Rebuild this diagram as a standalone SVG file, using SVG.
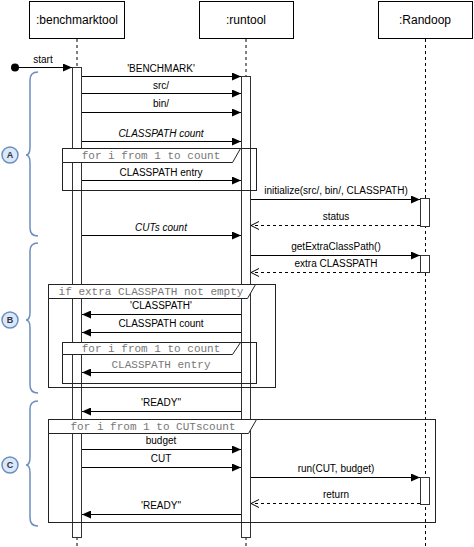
<svg xmlns="http://www.w3.org/2000/svg" width="474" height="547" viewBox="0 0 474 547">
<style>
text{font-family:"Liberation Sans",Arial,sans-serif;fill:#000}
.h{font-size:12px}
.m{font-size:10px}
.i{font-style:italic}
.mono{font-family:"Liberation Mono","Courier New",monospace;font-size:11px;fill:#777}
.box{fill:#fff;stroke:#000;stroke-width:1}
.life{stroke:#000;stroke-width:1;stroke-dasharray:3,3;fill:none}
.bar{fill:#fff;stroke:#333;stroke-width:1}
.frame{fill:none;stroke:#222;stroke-width:1}
.hdr{fill:#fff;stroke:#222;stroke-width:1}
.msg{stroke:#000;stroke-width:1;fill:none}
.ret{stroke:#000;stroke-width:1;fill:none;stroke-dasharray:3,3}
.brace{fill:none;stroke:#6c8ebf;stroke-width:1.5}
.circ{fill:#dae8fc;stroke:#6c8ebf;stroke-width:1.5}
.cl{font-size:9px;font-weight:bold;fill:#333}
</style>
<defs>
<marker id="fa" markerWidth="10" markerHeight="8" refX="9" refY="4" orient="auto" markerUnits="userSpaceOnUse">
<path d="M0,0 L9,4 L0,8 Z" fill="#000"/>
</marker>
<marker id="oa" markerWidth="10" markerHeight="10" refX="9" refY="5" orient="auto" markerUnits="userSpaceOnUse">
<path d="M1,1 L9,5 L1,9" fill="none" stroke="#000" stroke-width="1"/>
</marker>
</defs>

<g id="benchmarktool">
<rect class="box" x="29.5" y="1.5" width="95" height="37"/>
<text class="h" x="77" y="24" text-anchor="middle">:benchmarktool</text>
<line class="life" x1="77" y1="39" x2="77" y2="547"/>
<rect class="bar" x="72.5" y="67.5" width="9" height="470"/>
</g>
<g id="runtool">
<rect class="box" x="199.5" y="1.5" width="94" height="37"/>
<text class="h" x="246" y="24" text-anchor="middle">:runtool</text>
<line class="life" x1="246" y1="39" x2="246" y2="547"/>
<rect class="bar" x="241.5" y="76.5" width="9" height="461"/>
</g>
<g id="randoop">
<rect class="box" x="378.5" y="1.5" width="94" height="37"/>
<text class="h" x="425" y="24" text-anchor="middle">:Randoop</text>
<line class="life" x1="425.5" y1="39" x2="425.5" y2="547"/>
<rect class="bar" x="420.5" y="198.5" width="9" height="28"/>
<rect class="bar" x="420.5" y="255.5" width="9" height="17"/>
<rect class="bar" x="420.5" y="477.5" width="9" height="27"/>
</g>

<g id="frames">
<g id="loop1">
<rect class="frame" x="62.5" y="148.5" width="194" height="42"/>
<path class="hdr" d="M62.5,148.5 H240.5 L232.5,162.5 H62.5 Z"/>
<text class="mono" x="151" y="159" text-anchor="middle">for i from 1 to count</text>
</g>
<g id="alt1">
<rect class="frame" x="48.5" y="284.5" width="227" height="103"/>
<path class="hdr" d="M48.5,284.5 H255.5 L247.5,298.5 H48.5 Z"/>
<text class="mono" x="151" y="295" text-anchor="middle">if extra CLASSPATH not empty</text>
</g>
<g id="loop2">
<rect class="frame" x="62.5" y="342.5" width="194" height="41"/>
<path class="hdr" d="M62.5,342.5 H240.5 L232.5,354.5 H62.5 Z"/>
<text class="mono" x="151" y="352" text-anchor="middle">for i from 1 to count</text>
</g>
<g id="loop3">
<rect class="frame" x="48.5" y="419.5" width="387" height="103"/>
<path class="hdr" d="M48.5,419.5 H256.5 L248.5,433.5 H48.5 Z"/>
<text class="mono" x="153" y="430" text-anchor="middle">for i from 1 to CUTscount</text>
</g>
</g>

<g id="connectors">
<circle cx="15" cy="67.5" r="4" fill="#000"/>
<line class="msg" x1="15" y1="67.5" x2="72" y2="67.5" marker-end="url(#fa)"/>
<line class="msg" x1="82" y1="76.5" x2="241" y2="76.5" marker-end="url(#fa)"/>
<line class="msg" x1="82" y1="93.5" x2="241" y2="93.5" marker-end="url(#fa)"/>
<line class="msg" x1="82" y1="112.5" x2="241" y2="112.5" marker-end="url(#fa)"/>
<line class="msg" x1="82" y1="141.5" x2="241" y2="141.5" marker-end="url(#fa)"/>
<line class="msg" x1="82" y1="180.5" x2="241" y2="180.5" marker-end="url(#fa)"/>
<line class="msg" x1="251" y1="199.5" x2="420" y2="199.5" marker-end="url(#fa)"/>
<line class="ret" x1="420" y1="225.5" x2="251" y2="225.5" marker-end="url(#oa)"/>
<line class="msg" x1="82" y1="235.5" x2="241" y2="235.5" marker-end="url(#fa)"/>
<line class="msg" x1="251" y1="255.5" x2="420" y2="255.5" marker-end="url(#fa)"/>
<line class="ret" x1="420" y1="272.5" x2="251" y2="272.5" marker-end="url(#oa)"/>
<line class="msg" x1="241" y1="314.5" x2="82" y2="314.5" marker-end="url(#fa)"/>
<line class="msg" x1="241" y1="332.5" x2="82" y2="332.5" marker-end="url(#fa)"/>
<line class="msg" x1="241" y1="372.5" x2="82" y2="372.5" marker-end="url(#fa)"/>
<line class="msg" x1="241" y1="411.5" x2="82" y2="411.5" marker-end="url(#fa)"/>
<line class="msg" x1="82" y1="449.5" x2="241" y2="449.5" marker-end="url(#fa)"/>
<line class="msg" x1="82" y1="467.5" x2="241" y2="467.5" marker-end="url(#fa)"/>
<line class="msg" x1="251" y1="477.5" x2="420" y2="477.5" marker-end="url(#fa)"/>
<line class="ret" x1="420" y1="503.5" x2="251" y2="503.5" marker-end="url(#oa)"/>
<line class="msg" x1="241" y1="514.5" x2="82" y2="514.5" marker-end="url(#fa)"/>
</g>

<g id="labels">
<text class="m" x="43" y="63" text-anchor="middle">start</text>
<text class="m" x="161" y="72" text-anchor="middle">'BENCHMARK'</text>
<text class="m" x="161" y="89" text-anchor="middle">src/</text>
<text class="m" x="161" y="107" text-anchor="middle">bin/</text>
<text class="m i" x="161" y="137" text-anchor="middle">CLASSPATH count</text>
<text class="m" x="161" y="176" text-anchor="middle">CLASSPATH entry</text>
<text class="m" x="336" y="194" text-anchor="middle">initialize(src/, bin/, CLASSPATH)</text>
<text class="m" x="336" y="220" text-anchor="middle">status</text>
<text class="m i" x="161" y="231" text-anchor="middle">CUTs count</text>
<text class="m" x="336" y="250" text-anchor="middle">getExtraClassPath()</text>
<text class="m" x="336" y="267" text-anchor="middle">extra CLASSPATH</text>
<text class="m" x="161" y="309" text-anchor="middle">'CLASSPATH'</text>
<text class="m" x="161" y="327" text-anchor="middle">CLASSPATH count</text>
<text class="mono" x="161" y="368" text-anchor="middle">CLASSPATH entry</text>
<text class="m" x="161" y="406" text-anchor="middle">'READY"</text>
<text class="m" x="161" y="444" text-anchor="middle">budget</text>
<text class="m" x="161" y="462" text-anchor="middle">CUT</text>
<text class="m" x="336" y="472" text-anchor="middle">run(CUT, budget)</text>
<text class="m" x="336" y="498" text-anchor="middle">return</text>
<text class="m" x="161" y="509" text-anchor="middle">'READY"</text>
</g>

<g id="braceA">
<path class="brace" d="M38,72 Q30,72 30,80 V147 Q30,155 26,155 Q30,155 30,163 V228 Q30,236 38,236"/>
<circle class="circ" cx="10" cy="155" r="8"/>
<text class="cl" x="10" y="158" text-anchor="middle">A</text>
</g>
<g id="braceB">
<path class="brace" d="M38,243 Q30,243 30,251 V312 Q30,320 26,320 Q30,320 30,328 V385 Q30,393 38,393"/>
<circle class="circ" cx="10" cy="320" r="8"/>
<text class="cl" x="10" y="323" text-anchor="middle">B</text>
</g>
<g id="braceC">
<path class="brace" d="M38,401 Q30,401 30,409 V457 Q30,465 26,465 Q30,465 30,473 V518 Q30,526 38,526"/>
<circle class="circ" cx="10" cy="465" r="8"/>
<text class="cl" x="10" y="468" text-anchor="middle">C</text>
</g>
</svg>
